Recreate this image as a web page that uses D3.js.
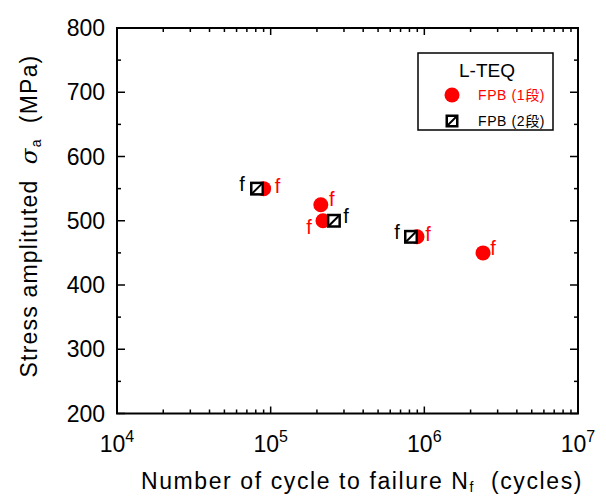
<!DOCTYPE html>
<html>
<head>
<meta charset="utf-8">
<script src="https://cdn.jsdelivr.net/npm/d3@7"></script>
<style>
  body { margin: 0; background: #fff; }
  text { font-family: "Liberation Sans", Arial, "Noto Sans CJK JP", sans-serif; white-space: pre; }
</style>
</head>
<body>
<div id="container"></div>
<script>
var width = 606, height = 498;
var margin = {left: 117, right: 28, top: 28, bottom: 84.5};

// FPB (1段) - red circles
var oneStepCycles = [90000, 212000, 219000, 896000, 2410000];
var oneStepStress = [550, 525, 500, 475, 450];
// FPB (2段) - hatched squares
var twoStepCycles = [81500, 258000, 819000];
var twoStepStress = [550, 500, 475];

var yTicks = [200, 300, 400, 500, 600, 700, 800];
var xTicks = [1e4, 1e5, 1e6, 1e7];

const SVG = d3.select("#container")
              .append("svg")
              .attr("width", width)
              .attr("height", height);

var x = d3.scaleLog().domain([1e4, 1e7]).range([margin.left, width - margin.right]);
var y = d3.scaleLinear().domain([200, 800]).range([height - margin.bottom, margin.top]);

var x0 = x.range()[0], x1 = x.range()[1], y0 = y.range()[0], y1 = y.range()[1];

// minor / major ticks (inward, all four sides)
var xMinor = [];
for (var e = 4; e < 7; e++) for (var m = 2; m <= 9; m++) xMinor.push(m * Math.pow(10, e));
var yMinor = [250, 350, 450, 550, 650, 750];

var ticks = SVG.append("g").attr("stroke", "#000").attr("stroke-width", 1.5);
xTicks.forEach(function(v) {
  ticks.append("line").attr("x1", x(v)).attr("x2", x(v)).attr("y1", y0).attr("y2", y0 - 7);
  ticks.append("line").attr("x1", x(v)).attr("x2", x(v)).attr("y1", y1).attr("y2", y1 + 7);
});
xMinor.forEach(function(v) {
  ticks.append("line").attr("x1", x(v)).attr("x2", x(v)).attr("y1", y0).attr("y2", y0 - 4);
  ticks.append("line").attr("x1", x(v)).attr("x2", x(v)).attr("y1", y1).attr("y2", y1 + 4);
});
yTicks.forEach(function(v) {
  ticks.append("line").attr("x1", x0).attr("x2", x0 + 8).attr("y1", y(v)).attr("y2", y(v));
  ticks.append("line").attr("x1", x1).attr("x2", x1 - 8).attr("y1", y(v)).attr("y2", y(v));
});
yMinor.forEach(function(v) {
  ticks.append("line").attr("x1", x0).attr("x2", x0 + 4).attr("y1", y(v)).attr("y2", y(v));
  ticks.append("line").attr("x1", x1).attr("x2", x1 - 4).attr("y1", y(v)).attr("y2", y(v));
});

SVG.append("rect")
   .attr("x", x0).attr("y", y1)
   .attr("width", x1 - x0).attr("height", y0 - y1)
   .attr("fill", "none").attr("stroke", "#000").attr("stroke-width", 2);

// tick labels
SVG.selectAll(".ylab")
   .data(yTicks)
   .enter()
   .append("text")
   .attr("x", x0 - 12)
   .attr("y", (d) => y(d) + 8)
   .attr("text-anchor", "end")
   .attr("font-size", "23px")
   .text((d) => d);

var xl = SVG.selectAll(".xlab")
   .data(xTicks)
   .enter()
   .append("text")
   .attr("x", (d) => x(d))
   .attr("y", y0 + 38)
   .attr("text-anchor", "middle")
   .attr("font-size", "23px");
xl.append("tspan").text("10");
xl.append("tspan").attr("dy", -10).attr("font-size", "16px").text((d) => Math.round(Math.log10(d)));

// axis titles
var xt = SVG.append("text")
   .attr("x", 362).attr("y", 489)
   .attr("text-anchor", "middle")
   .attr("font-size", "23px")
   .attr("letter-spacing", "1.6px");
xt.append("tspan").text("Number of cycle to failure N");
xt.append("tspan").attr("font-size", "14px").attr("dy", 3).text("f");
xt.append("tspan").attr("dy", -3).text("  (cycles)");

var yt = SVG.append("text")
   .attr("transform", "translate(37,216) rotate(-90)")
   .attr("text-anchor", "middle")
   .attr("font-size", "23px")
   .attr("letter-spacing", "1.2px");
yt.append("tspan").text("Stress amplituted  ");
yt.append("tspan").attr("font-style", "italic").attr("font-family", "DejaVu Serif").text("σ");
yt.append("tspan").attr("font-size", "14px").attr("dy", 4).text("a");
yt.append("tspan").attr("dy", -4).text("  (MPa)");

// data: red circles underneath, squares on top
var one = oneStepCycles.map((d, i) => ({n: d, s: oneStepStress[i]}));
var two = twoStepCycles.map((d, i) => ({n: d, s: twoStepStress[i]}));

SVG.selectAll(".circ")
   .data(one)
   .enter()
   .append("circle")
   .attr("cx", (d) => x(d.n))
   .attr("cy", (d) => y(d.s))
   .attr("r", 7.5)
   .attr("fill", "#ff0000");

function drawSquare(g, cx, cy, size) {
  var h = size / 2;
  g.append("rect").attr("x", cx - h + 1.25).attr("y", cy - h + 1.25)
   .attr("width", size - 2.5).attr("height", size - 2.5)
   .attr("fill", "#fff").attr("stroke", "#000").attr("stroke-width", 2.5);
  g.append("line").attr("x1", cx - h + 2).attr("y1", cy + h - 2)
   .attr("x2", cx + h - 2).attr("y2", cy - h + 2)
   .attr("stroke", "#000").attr("stroke-width", 2);
}

two.forEach(function(d) {
  drawSquare(SVG.append("g"), x(d.n), y(d.s), 14);
});

// "f" failure marks
var redF = [[14, -3], [11, -6], [-14, 6], [11, -3], [10, -5]];
var blackF = [[-15, -5], [12, -5], [-14, -5]];
SVG.selectAll(".fr")
   .data(one)
   .enter()
   .append("text")
   .attr("x", (d, i) => x(d.n) + redF[i][0])
   .attr("y", (d, i) => y(d.s) + redF[i][1] + 7)
   .attr("text-anchor", "middle")
   .attr("font-size", "20px")
   .attr("fill", "#ff0000")
   .text("f");
SVG.selectAll(".fb")
   .data(two)
   .enter()
   .append("text")
   .attr("x", (d, i) => x(d.n) + blackF[i][0])
   .attr("y", (d, i) => y(d.s) + blackF[i][1] + 7)
   .attr("text-anchor", "middle")
   .attr("font-size", "20px")
   .attr("fill", "#000")
   .text("f");

// legend
var lg = SVG.append("g");
lg.append("rect").attr("x", 418).attr("y", 53).attr("width", 135).attr("height", 77)
  .attr("fill", "#fff").attr("stroke", "#000").attr("stroke-width", 1.5);
lg.append("text").attr("x", 487).attr("y", 77).attr("text-anchor", "middle")
  .attr("font-size", "19px").text("L-TEQ");
lg.append("circle").attr("cx", 452).attr("cy", 95).attr("r", 7.5).attr("fill", "#ff0000");
lg.append("text").attr("x", 478).attr("y", 100).attr("font-size", "14px").attr("fill", "#ff0000")
  .attr("letter-spacing", "0.6px")
  .attr("font-family", "'Noto Sans CJK JP', sans-serif").text("FPB (1段)");
drawSquare(lg, 452, 121, 13);
lg.append("text").attr("x", 478).attr("y", 126).attr("font-size", "14px").attr("fill", "#000")
  .attr("letter-spacing", "0.6px")
  .attr("font-family", "'Noto Sans CJK JP', sans-serif").text("FPB (2段)");
</script>
</body>
</html>
